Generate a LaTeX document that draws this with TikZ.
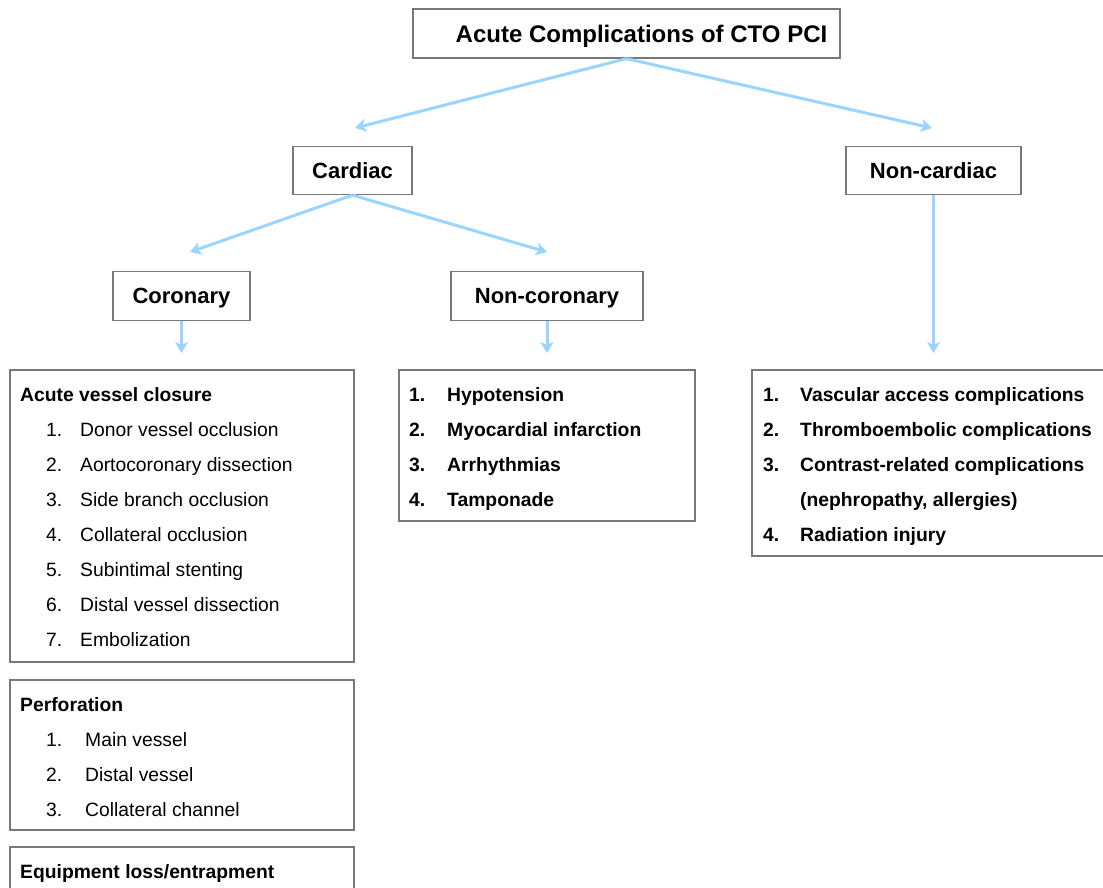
\documentclass[tikz,border=0pt]{standalone}
\usepackage{fontspec}
\setmainfont{Liberation Sans}
\usetikzlibrary{arrows.meta}
\definecolor{arrblue}{RGB}{153,213,255}
\definecolor{boxgray}{RGB}{120,120,120}
\begin{document}
\begin{tikzpicture}[x=1pt,y=-1pt,
  box/.style={draw=boxgray,line width=1.3pt,inner sep=0pt,minimum width=#1},
  head/.style={font=\fontsize{22}{26}\selectfont\bfseries,text height=15.8pt,text depth=0pt},
  tophead/.style={font=\fontsize{24}{28}\selectfont\bfseries,text height=17.2pt,text depth=0pt},
  itm/.style={anchor=base west,inner sep=0pt,font=\fontsize{19.3}{23}\selectfont},
  bitm/.style={anchor=base west,inner sep=0pt,font=\fontsize{19.3}{23}\selectfont\bfseries},
  arr/.style={draw=arrblue,line width=3pt,-{Stealth[length=11pt,width=13pt,inset=3pt]}}]
\useasboundingbox (0,0) rectangle (1103,888);
\clip (0,0) rectangle (1103,888);
% top level boxes
\node[box=427pt,minimum height=49pt,tophead] (top) at (626.5,33.5) {\hspace*{30pt}Acute Complications of CTO PCI};
\node[box=119pt,minimum height=48pt,head] (card) at (352.5,170.5) {Cardiac};
\node[box=175pt,minimum height=48pt,head] (noncard) at (933.5,170.5) {Non-cardiac};
\node[box=137pt,minimum height=49pt,head] (cor) at (181.5,296) {Coronary};
\node[box=192pt,minimum height=49pt,head] (noncor) at (547,296) {Non-coronary};
% list boxes
\node[box=344pt,minimum height=292pt] (avc) at (182,516) {};
\node[box=344pt,minimum height=150pt] (perf) at (182,755) {};
\node[box=344pt,minimum height=56pt] (equip) at (182,875) {};
\node[box=296pt,minimum height=151pt] (ncl) at (547,445.5) {};
\node[box=363pt,minimum height=186pt] (nkl) at (933.5,463) {};
% arrow ends
\coordinate (e1) at (355,128);
\coordinate (e2) at (932,128);
\coordinate (e3) at (190,252);
\coordinate (e4) at (547,252);
\coordinate (e5) at (181.5,353);
\coordinate (e6) at (547,353);
\coordinate (e7) at (933.5,353);
\draw[arr] (top.south) -- (e1);
\draw[arr] (top.south) -- (e2);
\draw[arr] (card.south) -- (e3);
\draw[arr] (card.south) -- (e4);
\draw[arr] (cor.south) -- (e5);
\draw[arr] (noncor.south) -- (e6);
\draw[arr] (noncard.south) -- (e7);
% acute vessel closure
\node[bitm] (t1) at (20,401) {Acute vessel closure};
\foreach \n/\t [count=\i] in {1/Donor vessel occlusion,2/Aortocoronary dissection,3/Side branch occlusion,4/Collateral occlusion,5/Subintimal stenting,6/Distal vessel dissection,7/Embolization}{
  \node[itm] (an\i) at (46,401+35*\i) {\n.};
  \node[itm] (at\i) at (80,401+35*\i) {\t};
}
% perforation
\node[bitm] (t2) at (20,711) {Perforation};
\foreach \n/\t [count=\i] in {1/Main vessel,2/Distal vessel,3/Collateral channel}{
  \node[itm] (pn\i) at (46,711+35*\i) {\n.};
  \node[itm] (pt\i) at (85,711+35*\i) {\t};
}
% equipment
\node[bitm] (t3) at (20,878) {Equipment loss/entrapment};
% non-coronary list
\foreach \n/\t [count=\i] in {1/Hypotension,2/Myocardial infarction,3/Arrhythmias,4/Tamponade}{
  \node[bitm] (cn\i) at (409,366+35*\i) {\n.};
  \node[bitm] (ct\i) at (447,366+35*\i) {\t};
}
% non-cardiac list
\node[bitm] (kn1) at (763,401) {1.};
\node[bitm] (kt1) at (800,401) {Vascular access complications};
\node[bitm] (kn2) at (763,436) {2.};
\node[bitm] (kt2) at (800,436) {Thromboembolic complications};
\node[bitm] (kn3) at (763,471) {3.};
\node[bitm] (kt3) at (800,471) {Contrast-related complications};
\node[bitm] (kt3b) at (800,506) {(nephropathy, allergies)};
\node[bitm] (kn4) at (763,541) {4.};
\node[bitm] (kt4) at (800,541) {Radiation injury};
\end{tikzpicture}
\end{document}
